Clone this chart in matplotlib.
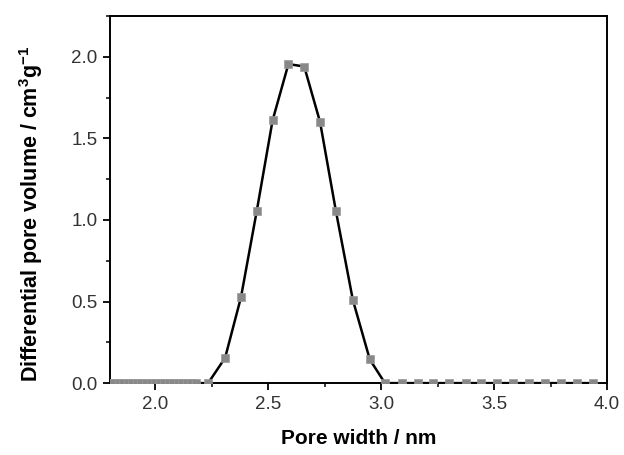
import matplotlib
matplotlib.use("Agg")
import matplotlib.pyplot as plt
from matplotlib.ticker import MultipleLocator, FormatStrFormatter

# pore size distribution
# dense flat segment at small widths (all zero)
x_flat = [1.80, 1.82, 1.84, 1.86, 1.88, 1.90, 1.92, 1.94, 1.96, 1.98,
          2.00, 2.02, 2.04, 2.06, 2.08, 2.10, 2.12, 2.14, 2.16, 2.18]
y_flat = [0.0] * len(x_flat)

# peak region + flat tail
x_peak = [2.235, 2.31, 2.38, 2.45, 2.52, 2.59, 2.66, 2.73, 2.80, 2.875,
          2.95, 3.017, 3.091, 3.162, 3.231, 3.302, 3.374, 3.442, 3.511,
          3.582, 3.654, 3.725, 3.796, 3.865, 3.936]
y_peak = [0.0, 0.155, 0.525, 1.055, 1.61, 1.955, 1.94, 1.60, 1.055, 0.51,
          0.145, 0.0, 0.0, 0.0, 0.0, 0.0, 0.0, 0.0, 0.0,
          0.0, 0.0, 0.0, 0.0, 0.0, 0.0]

xs = x_flat + x_peak
ys = y_flat + y_peak

plt.rcParams["font.family"] = ["Liberation Sans", "DejaVu Sans"]
plt.rcParams["mathtext.fontset"] = "custom"
plt.rcParams["mathtext.bf"] = "Liberation Sans:bold"
plt.rcParams["mathtext.rm"] = "Liberation Sans"

fig = plt.figure(figsize=(6.24, 4.55), dpi=100)
ax = fig.add_axes([0.176, 0.158, 0.797, 0.807])

ax.plot(xs, ys, color="black", linewidth=1.8, zorder=2)
ax.plot(xs, ys, linestyle="none", marker="s", markersize=5.5,
        markerfacecolor="#888888", markeredgecolor="#9a9a9a",
        markeredgewidth=0.5, zorder=3)

ax.set_xlim(1.8, 4.0)
ax.set_ylim(0, 2.25)
ax.xaxis.set_major_locator(MultipleLocator(0.5))
ax.xaxis.set_minor_locator(MultipleLocator(0.25))
ax.yaxis.set_major_locator(MultipleLocator(0.5))
ax.yaxis.set_minor_locator(MultipleLocator(0.25))
ax.xaxis.set_major_formatter(FormatStrFormatter("%.1f"))
ax.yaxis.set_major_formatter(FormatStrFormatter("%.1f"))

ax.tick_params(which="major", direction="out", length=5, width=1.3,
               labelsize=13.5, colors="black", labelcolor="#333333", pad=4)
ax.tick_params(which="minor", direction="out", length=3, width=1.1)
ax.tick_params(top=False, right=False)
for sp in ax.spines.values():
    sp.set_linewidth(1.4)

ax.set_xlabel("Pore width / nm", fontsize=15, fontweight="bold", labelpad=12)
ax.set_ylabel(r"Differential pore volume / cm$^{\mathbf{3}}$g$^{\mathbf{-1}}$",
              fontsize=15.5, fontweight="bold")
ax.yaxis.set_label_coords(-0.13, 0.46)

fig.savefig("out.png", dpi=100)
